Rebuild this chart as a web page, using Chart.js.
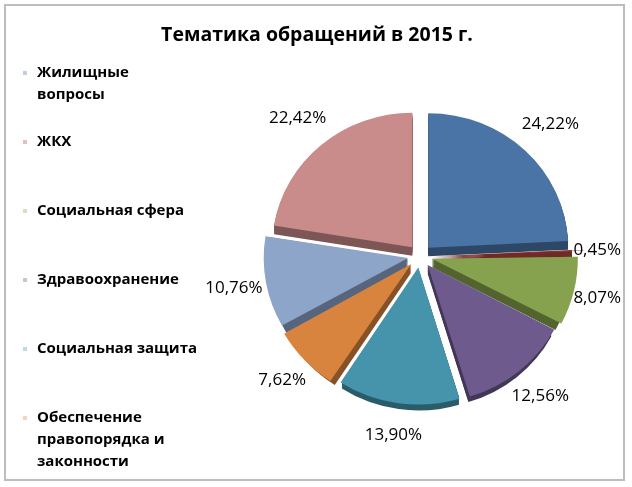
<!DOCTYPE html>
<html>
<head>
<meta charset="utf-8">
<script src="https://cdn.jsdelivr.net/npm/chart.js@4.4.1/dist/chart.umd.min.js"></script>
<style>
  html, body { margin: 0; padding: 0; background: #fff; }
  #wrap { width: 632px; height: 487px; position: relative; }
</style>
</head>
<body>
<div id="wrap"><canvas id="pieChart"></canvas></div>
<script>
const chartTitle = "Тематика обращений в 2015 г.";
// only the first six categories are visible in the (clipped) legend
const categories = [
  "Жилищные\nвопросы",
  "ЖКХ",
  "Социальная сфера",
  "Здравоохранение",
  "Социальная защита",
  "Обеспечение\nправопорядка и\nзаконности",
  "",
  ""
];
const shares = [24.22, 0.45, 8.07, 12.56, 13.90, 7.62, 10.76, 22.42];
const shareLabels = ["24,22%", "0,45%", "8,07%", "12,56%", "13,90%", "7,62%", "10,76%", "22,42%"];

const sliceColors = ["#4a74a6", "#b5433f", "#87a24e", "#6e5a8d", "#4594ab", "#d8843f", "#8da5c9", "#c98c8b"];

const TILT = 0.96;   // pie is seen a little from above
const DEPTH = 9;

function darken(hex, k) {
  const n = parseInt(hex.slice(1), 16);
  const r = Math.round(((n >> 16) & 255) * k);
  const g = Math.round(((n >> 8) & 255) * k);
  const b = Math.round((n & 255) * k);
  return `rgb(${r},${g},${b})`;
}

// frame, title and legend
const decorPlugin = {
  id: "decor",
  beforeDraw(chart) {
    const ctx = chart.ctx;
    ctx.save();
    ctx.strokeStyle = "#bdbdbd";
    ctx.lineWidth = 2;
    ctx.strokeRect(5, 5, 619, 475);
    ctx.restore();
  },
  afterDraw(chart) {
    const ctx = chart.ctx;
    ctx.save();
    ctx.fillStyle = "#000";
    ctx.textBaseline = "middle";
    ctx.textAlign = "center";
    ctx.font = "bold 19.5px 'Open Sans'";
    ctx.fillText(chartTitle, 317, 35);

    ctx.textAlign = "left";
    ctx.font = "bold 15px 'Open Sans'";
    for (let i = 0; i < 6; i++) {
      const y0 = 73 + i * 69;
      ctx.fillStyle = sliceColors[i];
      ctx.globalAlpha = 0.35;
      ctx.fillRect(23, y0 - 2, 4, 4);
      ctx.globalAlpha = 1;
      ctx.fillStyle = "#000";
      categories[i].split("\n").forEach((line, j) => {
        ctx.fillText(line, 37, y0 + j * 22);
      });
    }
    ctx.restore();
  }
};

// squash the pie a bit, fake 3d depth under every slice, percent labels
const depthPlugin = {
  id: "depth",
  beforeDatasetsDraw(chart) {
    const ctx = chart.ctx;
    const meta = chart.getDatasetMeta(0);
    const c = meta.data[0];
    ctx.save();
    ctx.translate(c.x, c.y);
    ctx.scale(1, TILT);
    ctx.translate(-c.x, -c.y);
    meta.data.forEach((arc, i) => {
      const p = arc.getProps(["x", "y", "startAngle", "endAngle", "outerRadius"], true);
      const shift = arc.options.offset / 4;
      const half = (p.startAngle + p.endAngle) / 2;
      const cx = p.x + Math.cos(half) * shift;
      const cy = p.y + Math.sin(half) * shift;
      ctx.fillStyle = darken(sliceColors[i], 0.62);
      for (let d = DEPTH; d >= 1; d--) {
        ctx.beginPath();
        ctx.moveTo(cx, cy + d);
        ctx.arc(cx, cy + d, p.outerRadius, p.startAngle, p.endAngle);
        ctx.closePath();
        ctx.fill();
      }
    });
    // transform stays active while the library draws the slices
  },
  afterDatasetsDraw(chart) {
    const ctx = chart.ctx;
    ctx.restore();
    const meta = chart.getDatasetMeta(0);
    ctx.save();
    ctx.fillStyle = "#000";
    ctx.font = "17px 'Open Sans'";
    ctx.textAlign = "center";
    ctx.textBaseline = "middle";
    meta.data.forEach((arc, i) => {
      const p = arc.getProps(["x", "y", "startAngle", "endAngle", "outerRadius"], true);
      const half = (p.startAngle + p.endAngle) / 2;
      const k = 1.35;
      const w = ctx.measureText(shareLabels[i]).width;
      let x = p.x + Math.cos(half) * p.outerRadius * k;
      const y = p.y + Math.sin(half) * p.outerRadius * TILT * k;
      x = Math.min(x, 621 - w / 2);   // keep inside the frame
      ctx.fillText(shareLabels[i], x, y);
    });
    ctx.restore();
  }
};

new Chart(document.getElementById("pieChart").getContext("2d"), {
  type: "pie",
  data: {
    labels: categories.map(c => c.replace(/\n/g, " ")),
    datasets: [{
      data: shares,
      backgroundColor: sliceColors,
      borderWidth: 0,
      offset: 48,
      hoverOffset: 48
    }]
  },
  options: {
    responsive: true,
    maintainAspectRatio: false,
    animation: false,
    layout: { padding: { left: 256, right: 48, top: 92, bottom: 67 } },
    plugins: {
      legend: { display: false },
      title: { display: false },
      tooltip: { enabled: false }
    },
    events: []
  },
  plugins: [depthPlugin, decorPlugin]
});
</script>
</body>
</html>
